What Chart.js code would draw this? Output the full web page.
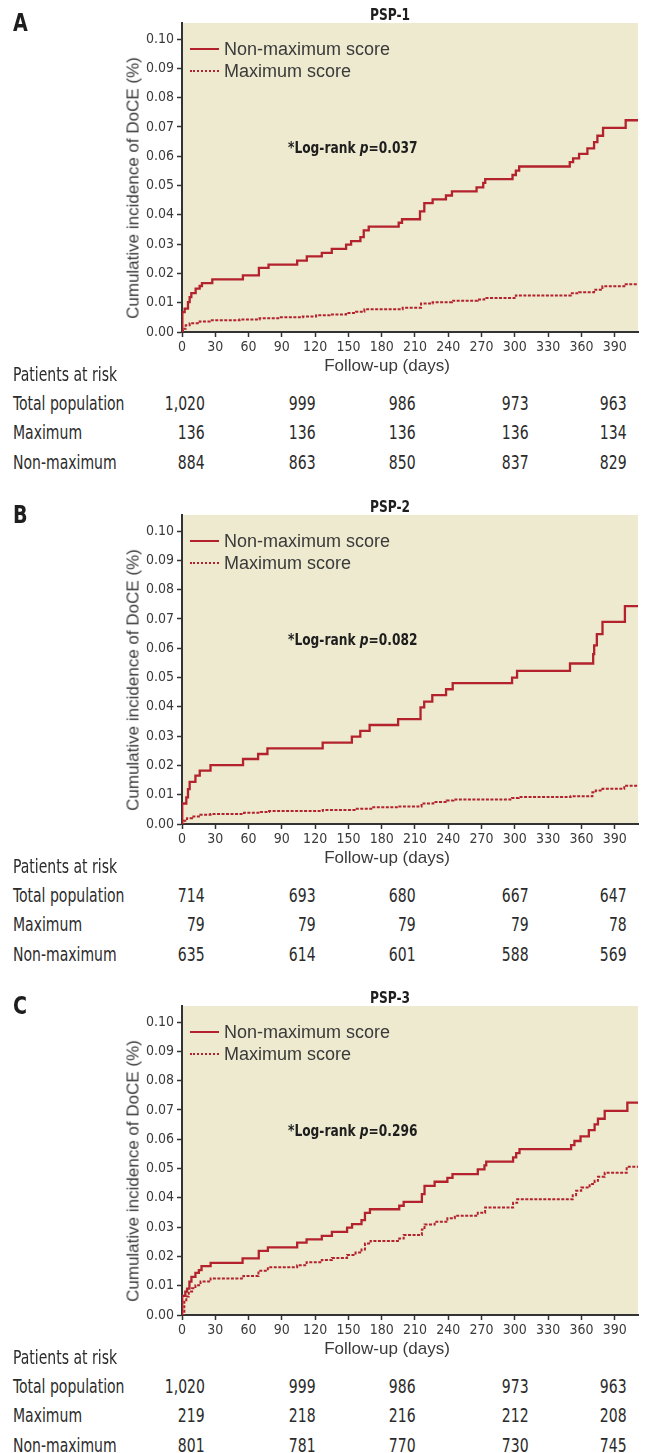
<!DOCTYPE html>
<html>
<head>
<meta charset="utf-8">
<script src="https://cdn.jsdelivr.net/npm/chart.js@4.4.1/dist/chart.umd.min.js"></script>
<style>
  html, body { margin: 0; padding: 0; background: #fff; }
  body { width: 647px; height: 1453px; position: relative; overflow: hidden; color: #2b2b2b; }
  .panel { position: absolute; left: 0; width: 647px; height: 492px; }
  .panel canvas { position: absolute; left: 0; top: 0; }
  .narrow { font-family: "Liberation Sans Narrow", "DejaVu Sans Condensed", sans-serif; }
  .regular { font-family: "Liberation Sans", Arial, sans-serif; }
  .abs { position: absolute; white-space: nowrap; line-height: 1; }
  .letter { left: 13px; top: 10px; font-size: 25px; font-weight: bold; color: #1e1e1e; transform: scaleX(0.85); transform-origin: left center; }
  .ptitle { left: 390px; top: 7px; font-size: 16px; font-weight: bold; transform: translateX(-50%) scaleX(0.85); color: #1e1e1e; }
  .ytitle { left: 133px; font-size: 17px; color: #3a3a3a; transform: translate(-50%, -50%) rotate(-90deg); }
  .xtitle { left: 387px; top: 357px; font-size: 17px; color: #3a3a3a; transform: translateX(-50%); }
  .logrank { left: 288px; font-size: 16px; font-weight: bold; color: #1e1e1e; transform: scaleX(0.85); transform-origin: left center; }
  .leg { left: 190px; font-size: 18px; color: #3a3a3a; }
  .leg span.sw { display: inline-block; width: 29px; height: 0; vertical-align: middle; margin-right: 5px; position: relative; top: -1px; }
  .cell { font-size: 19px; color: #2b2b2b; transform: scaleX(0.82); }
  .cell.lab { transform-origin: left center; }
  .cell.num { transform-origin: right center; }
</style>
</head>
<body>
<script>
// Follow-up days vs cumulative incidence
const xTicks = [0, 30, 60, 90, 120, 150, 180, 210, 240, 270, 300, 330, 360, 390];
const yTicks = [0, 0.01, 0.02, 0.03, 0.04, 0.05, 0.06, 0.07, 0.08, 0.09, 0.10];

const psp1NonMax = [[0,0],[0.3,0.0068],[2.4,0.008],[5.4,0.0102],[6.9,0.0119],[8.4,0.0133],[12.3,0.0148],[15.9,0.0157],[18,0.0167],[27.3,0.018],[54.9,0.0193],[69.3,0.0219],[78,0.023],[103.8,0.0244],[112.5,0.0258],[126,0.027],[135,0.0284],[147.9,0.0298],[152.4,0.031],[160.8,0.0324],[163.8,0.0347],[168.3,0.036],[195.3,0.0373],[198.3,0.0385],[214.5,0.0412],[218.4,0.044],[225.9,0.0453],[237.9,0.0466],[243.3,0.048],[265.5,0.0494],[271.5,0.0509],[273.3,0.0522],[297.9,0.0536],[300.9,0.0551],[303.9,0.0565],[349.5,0.058],[352.5,0.0593],[357.9,0.0608],[365.4,0.0627],[371.4,0.0648],[374.4,0.067],[379.5,0.0697],[399.9,0.0723],[411,0.0723]];
const psp1Max = [[0,0],[0.9,0.0011],[3.3,0.0023],[6.9,0.003],[15.9,0.0036],[24.9,0.004],[51.9,0.0043],[69.9,0.0047],[87.9,0.005],[108.9,0.0053],[120.9,0.0057],[132.9,0.006],[147.9,0.0065],[156.9,0.0069],[164.4,0.0078],[198.9,0.0083],[215.4,0.0097],[225.9,0.0102],[243.3,0.0107],[266.4,0.0111],[272.4,0.0116],[300.9,0.0125],[350.4,0.0132],[357.9,0.0136],[371.4,0.0144],[378.9,0.0156],[399.9,0.0163],[411,0.0163]];

const psp2NonMax = [[0,0],[0.2,0.007],[3.9,0.0091],[5.4,0.0119],[6.9,0.0144],[12.1,0.0165],[16,0.0182],[25.7,0.0201],[55,0.0222],[68.6,0.0239],[77,0.0258],[126.8,0.0278],[153.1,0.0298],[160.7,0.0318],[169.1,0.0338],[194.8,0.0358],[215,0.0398],[218.3,0.0418],[225.6,0.044],[238,0.046],[244,0.0481],[297.5,0.05],[302,0.0523],[349.7,0.0548],[370.6,0.058],[371.5,0.061],[373.9,0.0648],[379,0.069],[399.2,0.0744],[411,0.0744]];
const psp2Max = [[0,0],[1.5,0.0011],[4.5,0.002],[9.1,0.0026],[16.6,0.0032],[25.7,0.0034],[55.9,0.0038],[71,0.0041],[78.5,0.0044],[126.8,0.0048],[155.5,0.0052],[170.6,0.0057],[194.8,0.006],[215.9,0.007],[226.5,0.0075],[238.6,0.008],[244.6,0.0084],[297.5,0.0089],[303.5,0.0092],[350.3,0.0095],[369.9,0.0108],[372.9,0.0114],[379,0.012],[398.6,0.0131],[411,0.0131]];

const psp3NonMax = [[0,0],[0.2,0.0065],[3,0.008],[4.6,0.009],[6.7,0.0114],[8.5,0.013],[12.1,0.0144],[15.2,0.0153],[17.6,0.0167],[25.8,0.0178],[54.6,0.0193],[69.2,0.0219],[77.4,0.0231],[103.8,0.0247],[112.3,0.0258],[126,0.027],[135.1,0.0284],[148.8,0.0298],[153.3,0.031],[161.8,0.0324],[164.9,0.0349],[169.4,0.0361],[195.8,0.0373],[199.8,0.0386],[216.2,0.0413],[218.6,0.0441],[227.7,0.0455],[239.2,0.0468],[243.8,0.0481],[266.6,0.0497],[272.6,0.0511],[274.2,0.0524],[298.4,0.0538],[301.2,0.0553],[304.2,0.0566],[350.7,0.058],[353.7,0.0594],[359.2,0.061],[366.7,0.0631],[371.9,0.0651],[374.9,0.067],[381,0.0697],[401.4,0.0725],[411,0.0725]];
const psp3Max = [[0,0],[2.1,0.0045],[3.9,0.0063],[6.1,0.008],[9.1,0.0091],[12.1,0.0102],[16.7,0.0114],[25.8,0.0125],[55.3,0.0133],[68.9,0.0151],[77.4,0.0163],[103.8,0.017],[112.3,0.018],[126,0.0188],[135.1,0.0195],[148.8,0.0205],[156.4,0.0213],[161.8,0.0224],[164.9,0.0244],[170,0.0253],[195.8,0.0261],[199.8,0.0273],[216.2,0.0292],[218.6,0.0309],[227.7,0.0318],[239.2,0.033],[245.9,0.0339],[266.6,0.0349],[273.2,0.0367],[298.4,0.0383],[302.1,0.0395],[352.2,0.0409],[355.2,0.0424],[359.8,0.0435],[367.4,0.0447],[371.9,0.0458],[374.9,0.0472],[381,0.0486],[400.8,0.0506],[411,0.0506]];

// Patients at risk
const riskRows = ['Total population', 'Maximum', 'Non-maximum'];
const psp1Risk = [[1020, 999, 986, 973, 963], [136, 136, 136, 136, 134], [884, 863, 850, 837, 829]];
const psp2Risk = [[714, 693, 680, 667, 647], [79, 79, 79, 79, 78], [635, 614, 601, 588, 569]];
const psp3Risk = [[1020, 999, 986, 973, 963], [219, 218, 216, 212, 208], [801, 781, 770, 730, 745]];

const panels = [
    { letter: 'A', title: 'PSP-1', p: '0.037', nonMax: psp1NonMax, max: psp1Max, risk: psp1Risk, top: 0 },
    { letter: 'B', title: 'PSP-2', p: '0.082', nonMax: psp2NonMax, max: psp2Max, risk: psp2Risk, top: 492 },
    { letter: 'C', title: 'PSP-3', p: '0.296', nonMax: psp3NonMax, max: psp3Max, risk: psp3Risk, top: 983 }
];

const RED = '#b3222d';
const BG = '#edeacf';
const AXIS = '#333';
const NARROW = '"Liberation Sans Narrow", "DejaVu Sans Condensed", sans-serif';
const riskColRight = [205, 316, 416, 529, 627];

// plot background fill
const bgPlugin = {
    id: 'plotBg',
    beforeDraw(chart) {
        const a = chart.chartArea;
        chart.ctx.save();
        chart.ctx.fillStyle = BG;
        chart.ctx.fillRect(a.left, a.top, a.right - a.left, a.bottom - a.top);
        chart.ctx.restore();
    }
};

function addText(parent, cls, html, style) {
    const d = document.createElement('div');
    d.className = 'abs ' + cls;
    d.innerHTML = html;
    Object.assign(d.style, style || {});
    parent.appendChild(d);
    return d;
}

const toXY = arr => arr.map(([x, y]) => ({ x: x, y: y }));

panels.forEach(function(p) {
    const panel = document.createElement('div');
    panel.className = 'panel';
    panel.style.top = p.top + 'px';
    document.body.appendChild(panel);

    const canvas = document.createElement('canvas');
    canvas.width = 647;
    canvas.height = 360;
    panel.appendChild(canvas);

    new Chart(canvas.getContext('2d'), {
        type: 'line',
        data: {
            datasets: [{
                label: 'Non-maximum score',
                data: toXY(p.nonMax),
                borderColor: RED,
                borderWidth: 2.3,
                stepped: true,
                pointRadius: 0,
                fill: false
            }, {
                label: 'Maximum score',
                data: toXY(p.max),
                borderColor: RED,
                borderWidth: 2,
                borderDash: [3, 1.5],
                stepped: true,
                pointRadius: 0,
                fill: false
            }]
        },
        options: {
            responsive: false,
            animation: false,
            layout: { padding: { top: 23, right: 9, left: 0, bottom: 0 } },
            plugins: { legend: { display: false }, tooltip: { enabled: false } },
            scales: {
                x: {
                    type: 'linear',
                    min: 0,
                    max: 411,
                    afterBuildTicks: function(s) { s.ticks = xTicks.map(v => ({ value: v })); },
                    afterFit: function(s) { s.height = 28; },
                    grid: { drawOnChartArea: false, drawTicks: true, tickLength: 5, tickColor: AXIS, tickWidth: 1.5 },
                    border: { display: true, color: AXIS, width: 2 },
                    ticks: { font: { family: NARROW, size: 14 }, color: '#3a3a3a', padding: 2, maxRotation: 0, autoSkip: false }
                },
                y: {
                    type: 'linear',
                    min: 0,
                    max: 0.1055,
                    afterBuildTicks: function(s) { s.ticks = yTicks.map(v => ({ value: v })); },
                    afterFit: function(s) { s.width = 182; },
                    grid: { drawOnChartArea: false, drawTicks: true, tickLength: 5, tickColor: AXIS, tickWidth: 1.5 },
                    border: { display: true, color: AXIS, width: 2 },
                    ticks: {
                        font: { family: NARROW, size: 14 }, color: '#3a3a3a', padding: 3,
                        callback: function(v) { return v.toFixed(2); }
                    }
                }
            }
        },
        plugins: [bgPlugin]
    });

    addText(panel, 'letter narrow', p.letter);
    addText(panel, 'ptitle narrow', p.title);
    addText(panel, 'ytitle regular', 'Cumulative incidence of DoCE (%)', { top: '188px' });
    addText(panel, 'xtitle regular', 'Follow-up (days)');
    addText(panel, 'logrank narrow', '*Log-rank <i>p</i>=' + p.p, { top: '140px' });
    addText(panel, 'leg regular', '<span class="sw" style="border-top:2.3px solid ' + RED + '"></span>Non-maximum score', { top: '40px' });
    addText(panel, 'leg regular', '<span class="sw" style="border-top:2px dotted ' + RED + '"></span>Maximum score', { top: '62px' });

    // patients at risk table
    addText(panel, 'cell lab narrow', 'Patients at risk', { left: '13px', top: '365px' });
    riskRows.forEach(function(name, r) {
        const top = 394 + r * 29.3;
        addText(panel, 'cell lab narrow', name, { left: '13px', top: top + 'px' });
        p.risk[r].forEach(function(v, c) {
            addText(panel, 'cell num narrow', v.toLocaleString('en-US'),
                { right: (647 - riskColRight[c]) + 'px', top: top + 'px' });
        });
    });
});
</script>
</body>
</html>
